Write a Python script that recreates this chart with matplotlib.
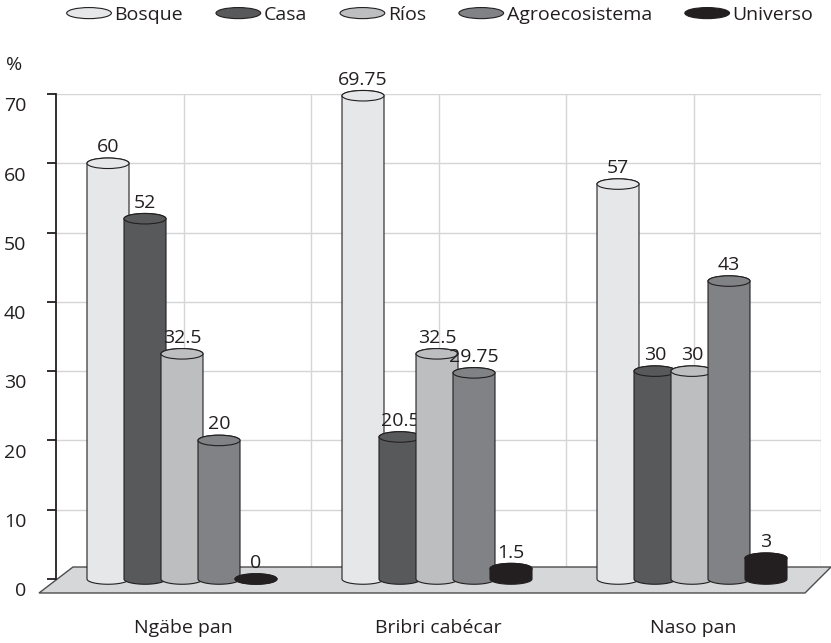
import matplotlib.pyplot as plt
import numpy as np
from matplotlib.patches import Ellipse, Polygon, Patch
from matplotlib.legend_handler import HandlerPatch

plt.rcParams['font.family'] = ['Open Sans', 'DejaVu Sans']

grupos = ['Ngäbe pan', 'Bribri cabécar', 'Naso pan']
series = ['Bosque', 'Casa', 'Ríos', 'Agroecosistema', 'Universo']
bosque = [60, 69.75, 57]
casa = [52, 20.5, 30]
rios = [32.5, 32.5, 30]
agro = [20, 29.75, 43]
universo = [0, 1.5, 3]
valores = [bosque, casa, rios, agro, universo]
colores = ['#e6e7e8', '#58595b', '#bcbec0', '#808285', '#231f20']
yticks = [0, 10, 20, 30, 40, 50, 60, 70]

tinta = '#231f20'
fs = 14

fig = plt.figure(figsize=(8.31, 6.43), dpi=100)
ax = fig.add_axes([56/831, 1 - 579/643, 765/831, 485/643])
ax.set_xlim(-0.5, 2.5)
ax.set_ylim(0, 70)

# pixel sizes expressed in data units
px_x = 3 / 765.0
px_y = 70 / 485.0

ancho = 42 * px_x
paso = 37 * px_x
desfase = -1.5 * px_x
alto_elipse = 10.5 * px_y

# back wall grid
ax.set_xticks(np.arange(0, 2.6, 0.5))
ax.set_yticks(yticks)
ax.tick_params(axis='x', length=0, labelbottom=False)
ax.tick_params(axis='y', direction='out', length=6.5, width=1.3, color=tinta, labelleft=False)
ax.grid(True, color='#d4d5d6', lw=1)
ax.set_axisbelow(True)
for s in ['top', 'right', 'bottom']:
    ax.spines[s].set_visible(False)
ax.spines['left'].set_color(tinta)
ax.spines['left'].set_linewidth(1.3)

# floor slab
piso = Polygon([(-0.5 - 17 * px_x, -14 * px_y), (2.5 - 16 * px_x, -14 * px_y),
                (2.5 + 10 * px_x, 12 * px_y), (-0.5 + 17 * px_x, 12 * px_y)],
               closed=True, facecolor='#d6d7d8', edgecolor='#4d4d4f', lw=1,
               zorder=2, clip_on=False)
ax.add_patch(piso)


def cilindro(xc, v, color, z):
    t = np.linspace(np.pi, 2 * np.pi, 40)
    a = ancho / 2
    b = alto_elipse / 2
    base = [(xc + a * np.cos(tt), b * np.sin(tt)) for tt in t]
    tapa = [(xc - a * np.cos(tt), v - b * np.sin(tt)) for tt in t]
    cuerpo = Polygon(base + tapa, closed=True, facecolor=color,
                     edgecolor=tinta, lw=0.8, zorder=z, clip_on=False)
    ax.add_patch(cuerpo)
    top = Ellipse((xc, v), ancho, alto_elipse, facecolor=color, edgecolor=tinta,
                  lw=0.8, zorder=z + 0.1, clip_on=False)
    ax.add_patch(top)


for k, (vals, color) in enumerate(zip(valores, colores)):
    z = 3 + 2 * k
    for i, v in enumerate(vals):
        xc = i + (k - 2) * paso + desfase
        cilindro(xc, v, color, z)
        ax.annotate(f'{v:g}', (xc, v), xytext=(0, 11.5), textcoords='offset points',
                    ha='center', va='center', fontsize=fs, color=tinta,
                    zorder=z + 1, annotation_clip=False)

# value axis labels, shifted to the front plane
for v in yticks:
    ax.annotate(str(v), (-0.5, v), xytext=(-21.5, -8.8), textcoords='offset points',
                ha='right', va='center', fontsize=fs, color=tinta, annotation_clip=False)
ax.annotate('%', (-0.5, 70), xytext=(-30, 21), textcoords='offset points',
            ha='center', va='center', fontsize=fs, color=tinta, annotation_clip=False)

# category labels
for i, g in enumerate(grupos):
    ax.annotate(g, (i, 0), xytext=(0, -35.5), textcoords='offset points',
                ha='center', va='center', fontsize=fs, color=tinta, annotation_clip=False)


class HandlerElipse(HandlerPatch):
    def create_artists(self, legend, orig_handle, xdescent, ydescent,
                       width, height, fontsize, trans):
        e = Ellipse((width / 2 - xdescent, height / 2 - ydescent), width, height)
        self.update_prop(e, orig_handle, legend)
        e.set_transform(trans)
        return [e]


handles = [Patch(facecolor=c, edgecolor=tinta, lw=0.8) for c in colores]
fig.legend(handles, series, loc='center', bbox_to_anchor=(440 / 831, 1 - 15 / 643),
           ncol=5, frameon=False, fontsize=fs, handlelength=2.3, handleheight=0.5,
           handletextpad=0.15, columnspacing=1.7, borderpad=0, labelcolor=tinta,
           handler_map={Patch: HandlerElipse()})

fig.savefig('out.png', dpi=100)
